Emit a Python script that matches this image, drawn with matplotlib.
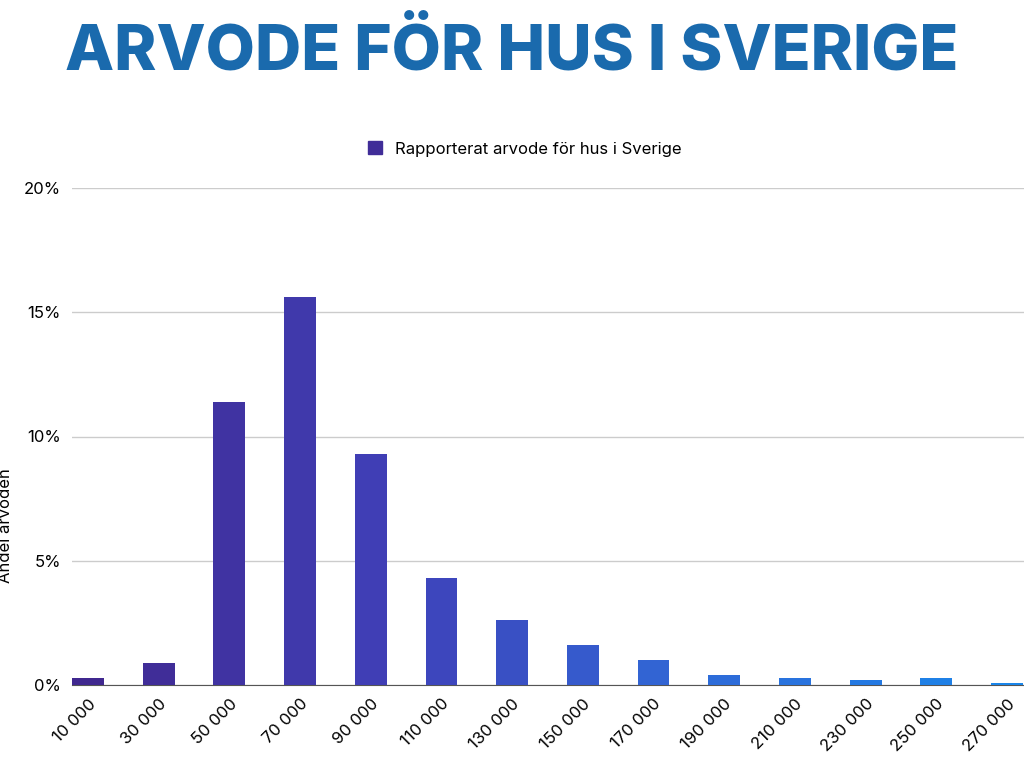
import matplotlib
matplotlib.use("Agg")
import matplotlib.pyplot as plt
import numpy as np
from matplotlib.colors import LinearSegmentedColormap

categories = ["10 000","30 000","50 000","70 000","90 000","110 000","130 000",
              "150 000","170 000","190 000","210 000","230 000","250 000","270 000"]
values = [0.3,0.9,11.4,15.6,9.3,4.3,2.6,1.6,1.0,0.4,0.3,0.2,0.3,0.1]
yticks = [0,5,10,15,20]
ytick_labels = ["0%","5%","10%","15%","20%"]

plt.rcParams['font.family'] = ['Inter', 'DejaVu Sans']
fig = plt.figure(figsize=(10.24,7.68), dpi=100)
ax = fig.add_axes([72/1024, 1-685/768, 1-72/1024, (685-188)/768])
cmap = LinearSegmentedColormap.from_list("g", ["#40288f", "#4040b8", "#2f6ad8", "#1a86ea"])
x = np.arange(len(values))
colors = [cmap(i/(len(values)-1)) for i in x]
ax.bar(x, values, width=0.45, color=colors, zorder=3, label="Rapporterat arvode för hus i Sverige")
ax.set_xlim(-0.226, 13.24)
ax.set_ylim(0, 20)
ax.set_yticks(yticks)
ax.set_yticklabels(ytick_labels, fontsize=12)
ax.set_xticks(x)
ax.set_xticklabels(categories, rotation=45, ha="right", rotation_mode="anchor", fontsize=12)
ax.tick_params(length=0, pad=8)
ax.grid(axis="y", color="#cccccc", linewidth=1, zorder=0)
for s in ["top","right","left"]:
    ax.spines[s].set_visible(False)
ax.spines["bottom"].set_color("#555555")
ax.set_ylabel("Andel arvoden", fontsize=12, labelpad=2)
ax.yaxis.set_label_coords(-0.062, 0.32)
leg_h = plt.Rectangle((0,0),1,1,color=colors[1])
fig.legend([leg_h], ["Rapporterat arvode för hus i Sverige"], loc="center",
           bbox_to_anchor=(525/1024, 1-149/768), frameon=False, fontsize=12,
           handlelength=0.8, handleheight=0.8, handletextpad=0.8)
fig.text(512/1024, 1-52/768, "ARVODE FÖR HUS I SVERIGE", ha="center", va="center",
         fontsize=46, fontweight="heavy", color="#1a6aad")
fig.savefig("out.png", dpi=100)
